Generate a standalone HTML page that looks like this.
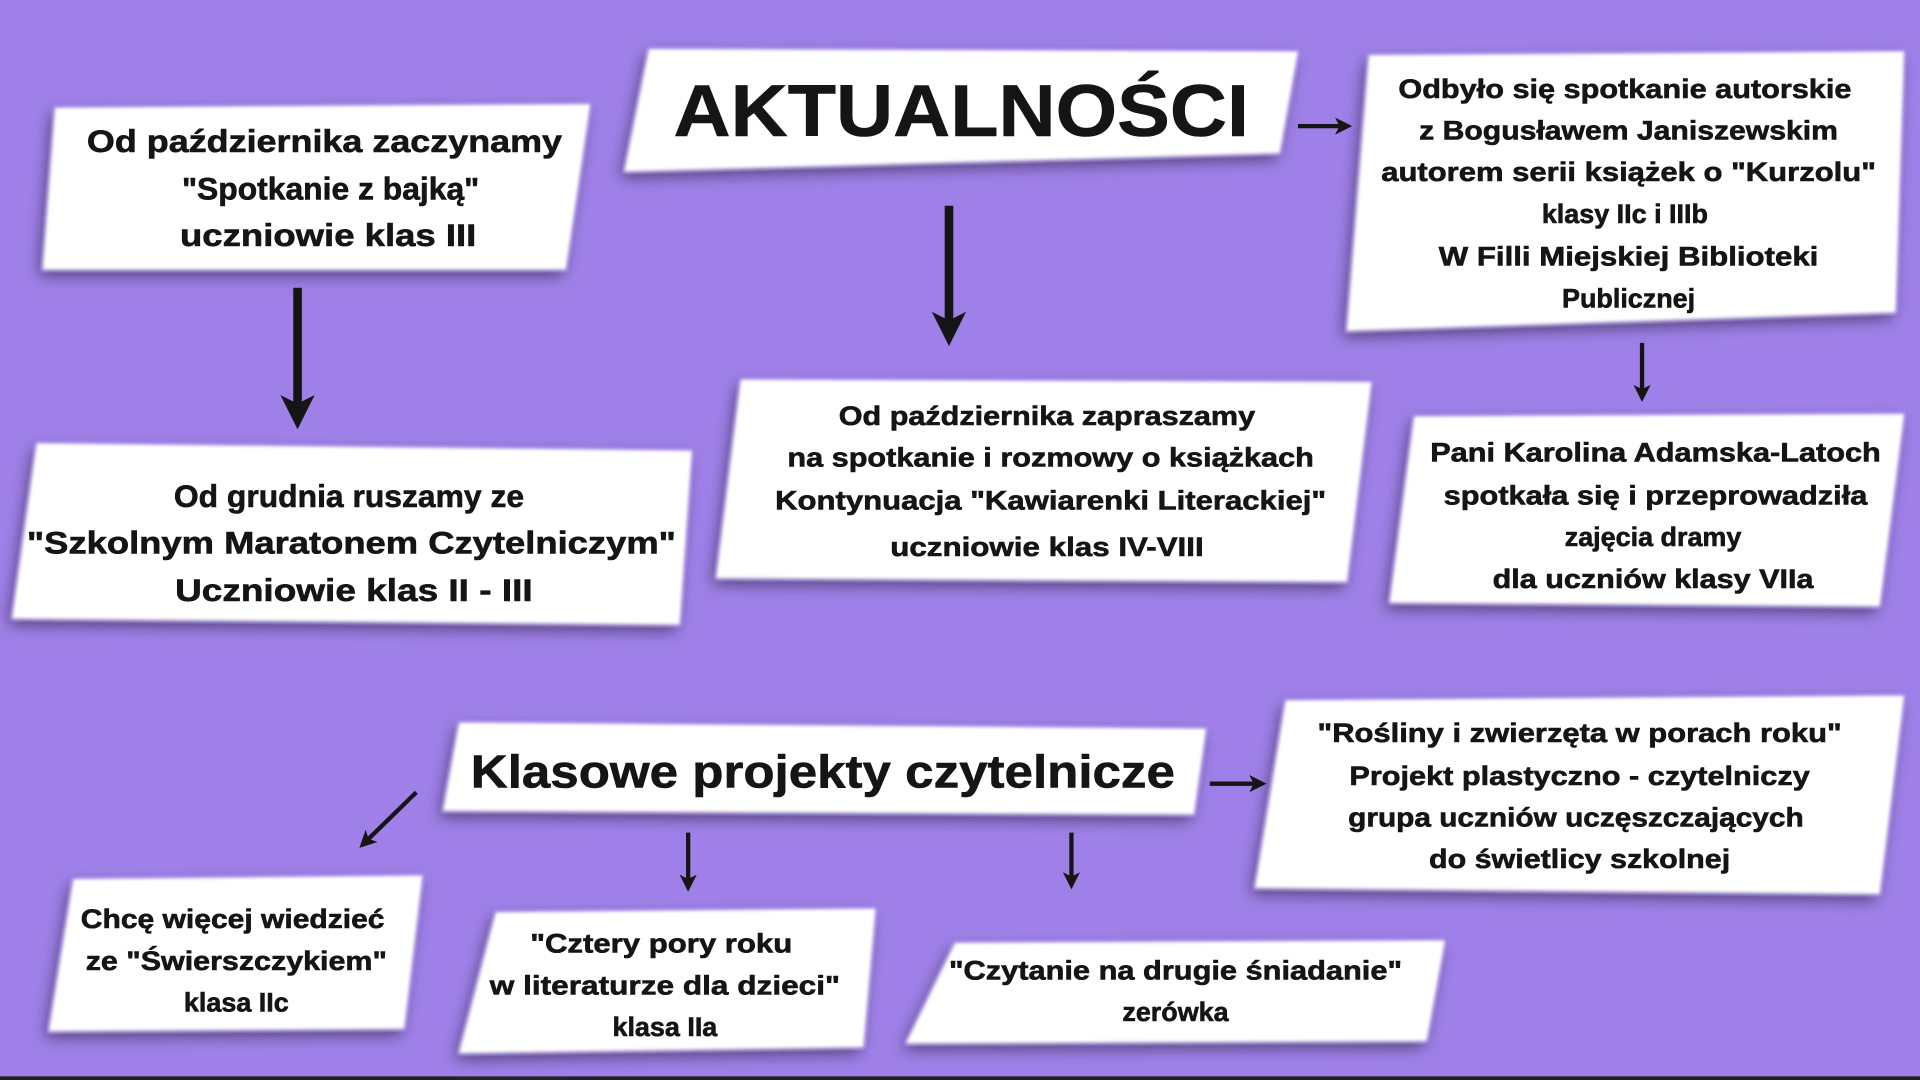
<!DOCTYPE html>
<html><head><meta charset="utf-8"><style>
html,body{margin:0;padding:0;background:#9e80e8;overflow:hidden}
#w{width:1568px;height:882px;transform:scale(1.22449);transform-origin:0 0}
text{font-family:"Liberation Sans","DejaVu Sans",sans-serif;font-weight:bold;fill:#151515;stroke:#151515;stroke-width:0.5;text-anchor:middle}
</style></head><body><div id="w">
<svg width="1568" height="882" viewBox="0 0 1568 882">
<defs>
<filter id="s" x="-10%" y="-20%" width="120%" height="140%"><feGaussianBlur in="SourceGraphic" stdDeviation="1.2" result="b"/><feDropShadow in="b" dx="-3" dy="5" stdDeviation="6" flood-color="#000" flood-opacity="0.5"/></filter>
<marker id="a" markerWidth="4" markerHeight="4" refX="2.2" refY="2" orient="auto" markerUnits="strokeWidth"><path d="M0,0 L4,2 L0,4 L1,2 Z" fill="#151515"/></marker>
</defs>
<rect width="1568" height="882" fill="#9e80e8"/>
<rect y="879" width="1568" height="3" fill="#222"/>
<g fill="#fff" filter="url(#s)">
<polygon points="530,40 1060,42 1045,125 510,140"/>
<polygon points="45,88 482,85 462,220 35,220"/>
<polygon points="1118,45 1555,42 1548,255 1100,270"/>
<polygon points="30,362 565,368 555,510 10,505"/>
<polygon points="605,310 1120,312 1100,475 585,472"/>
<polygon points="1155,340 1555,338 1535,495 1135,492"/>
<polygon points="375,590 985,595 975,665 362,662"/>
<polygon points="1050,572 1555,568 1535,730 1025,725"/>
<polygon points="60,718 345,715 330,840 40,842"/>
<polygon points="405,745 715,742 705,855 375,860"/>
<polygon points="780,770 1180,768 1165,850 740,852"/>
</g>
<g stroke="#151515" fill="none">
<line x1="243" y1="235" x2="243" y2="338" stroke-width="7" marker-end="url(#a)"/>
<line x1="775" y1="168" x2="775" y2="270" stroke-width="7" marker-end="url(#a)"/>
<line x1="1060" y1="103" x2="1098" y2="103" stroke-width="3.5" marker-end="url(#a)"/>
<line x1="1341" y1="280" x2="1341" y2="322" stroke-width="3.5" marker-end="url(#a)"/>
<line x1="340" y1="647" x2="298" y2="688" stroke-width="3.5" marker-end="url(#a)"/>
<line x1="562" y1="680" x2="562" y2="722" stroke-width="3.5" marker-end="url(#a)"/>
<line x1="875" y1="680" x2="875" y2="720" stroke-width="3.5" marker-end="url(#a)"/>
<line x1="988" y1="640" x2="1028" y2="640" stroke-width="3.5" marker-end="url(#a)"/>
</g>
<text x="785" y="111" font-size="60" stroke-width="1.5" textLength="470" lengthAdjust="spacingAndGlyphs">AKTUALNOŚCI</text>
<g font-size="26">
<text x="265" y="124" textLength="388" lengthAdjust="spacingAndGlyphs">Od października zaczynamy</text>
<text x="270" y="163">"Spotkanie z bajką"</text>
<text x="268" y="201" textLength="242" lengthAdjust="spacingAndGlyphs">uczniowie klas III</text>
<text x="285" y="414">Od grudnia ruszamy ze</text>
<text x="287" y="452" textLength="530" lengthAdjust="spacingAndGlyphs">"Szkolnym Maratonem Czytelniczym"</text>
<text x="289" y="491" textLength="292" lengthAdjust="spacingAndGlyphs">Uczniowie klas II - III</text>
</g>
<g font-size="22">
<text x="1327" y="80" textLength="370" lengthAdjust="spacingAndGlyphs">Odbyło się spotkanie autorskie</text>
<text x="1330" y="114" textLength="342" lengthAdjust="spacingAndGlyphs">z Bogusławem Janiszewskim</text>
<text x="1330" y="148" textLength="404" lengthAdjust="spacingAndGlyphs">autorem serii książek o "Kurzolu"</text>
<text x="1327" y="182">klasy IIc i IIIb</text>
<text x="1330" y="217" textLength="310" lengthAdjust="spacingAndGlyphs">W Filli Miejskiej Biblioteki</text>
<text x="1330" y="251">Publicznej</text>
<text x="855" y="347" textLength="340" lengthAdjust="spacingAndGlyphs">Od października zapraszamy</text>
<text x="858" y="381" textLength="430" lengthAdjust="spacingAndGlyphs">na spotkanie i rozmowy o książkach</text>
<text x="858" y="416" textLength="450" lengthAdjust="spacingAndGlyphs">Kontynuacja "Kawiarenki Literackiej"</text>
<text x="855" y="454" textLength="256" lengthAdjust="spacingAndGlyphs">uczniowie klas IV-VIII</text>
<text x="1352" y="377" textLength="368" lengthAdjust="spacingAndGlyphs">Pani Karolina Adamska-Latoch</text>
<text x="1352" y="412" textLength="346" lengthAdjust="spacingAndGlyphs">spotkała się i przeprowadziła</text>
<text x="1350" y="446">zajęcia dramy</text>
<text x="1350" y="480" textLength="262" lengthAdjust="spacingAndGlyphs">dla uczniów klasy VIIa</text>
<text x="1290" y="606" textLength="428" lengthAdjust="spacingAndGlyphs">"Rośliny i zwierzęta w porach roku"</text>
<text x="1290" y="641" textLength="376" lengthAdjust="spacingAndGlyphs">Projekt plastyczno - czytelniczy</text>
<text x="1287" y="675" textLength="372" lengthAdjust="spacingAndGlyphs">grupa uczniów uczęszczających</text>
<text x="1290" y="709" textLength="246" lengthAdjust="spacingAndGlyphs">do świetlicy szkolnej</text>
<text x="190" y="758" textLength="248" lengthAdjust="spacingAndGlyphs">Chcę więcej wiedzieć</text>
<text x="193" y="792" textLength="246" lengthAdjust="spacingAndGlyphs">ze "Świerszczykiem"</text>
<text x="193" y="826">klasa IIc</text>
<text x="540" y="778" textLength="214" lengthAdjust="spacingAndGlyphs">"Cztery pory roku</text>
<text x="543" y="812" textLength="286" lengthAdjust="spacingAndGlyphs">w literaturze dla dzieci"</text>
<text x="543" y="846">klasa IIa</text>
<text x="960" y="800" textLength="370" lengthAdjust="spacingAndGlyphs">"Czytanie na drugie śniadanie"</text>
<text x="960" y="834">zerówka</text>
</g>
<text x="672" y="643" font-size="38" stroke-width="1" textLength="575" lengthAdjust="spacingAndGlyphs">Klasowe projekty czytelnicze</text>
</svg>
</div></body></html>
